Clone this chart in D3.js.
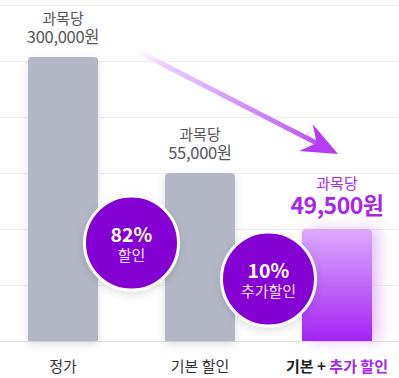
<!DOCTYPE html>
<html>
<head>
<meta charset="utf-8">
<script src="https://cdn.jsdelivr.net/npm/d3@7"></script>
<style>
  body { margin: 0; background: #fff; }
  svg { display: block; font-family: 'Noto Sans CJK KR', 'Noto Sans', sans-serif; }
</style>
</head>
<body>
<script>
// data
const categories = ['정가', '기본 할인', '기본 + 추가 할인'];
const prices = [300000, 55000, 49500];
const barLevel = [5.07, 3, 2]; // bar height in grid steps (chart is not to scale)
const priceUnit = '과목당';
const discounts = ['82%', '10%'];
const discountLabels = ['할인', '추가할인'];
const gridLevels = [0, 1, 2, 3, 4, 5, 6];

const width = 399, height = 378;
const svg = d3.select('body').append('svg').attr('width', width).attr('height', height);

const x = d3.scalePoint().domain(categories).range([63, 337]);
const y = d3.scaleLinear().domain([0, 6]).range([341, 5]);
const barW = 70;
const fmt = d3.format(',');

const defs = svg.append('defs');

let shadow = defs.append('filter').attr('id', 'shadow').attr('x', '-50%').attr('y', '-50%').attr('width', '200%').attr('height', '200%');
shadow.append('feDropShadow').attr('dx', 0).attr('dy', 3).attr('stdDeviation', 4).attr('flood-color', '#000').attr('flood-opacity', 0.12);

let glow = defs.append('filter').attr('id', 'glow').attr('x', '-50%').attr('y', '-50%').attr('width', '200%').attr('height', '200%');
glow.append('feDropShadow').attr('dx', 7).attr('dy', 0).attr('stdDeviation', 7).attr('flood-color', '#c060ff').attr('flood-opacity', 0.4);

let barGrad = defs.append('linearGradient').attr('id', 'barGrad').attr('x1', 0).attr('x2', 0).attr('y1', 0).attr('y2', 1);
barGrad.append('stop').attr('offset', '0%').attr('stop-color', '#dcaafc');
barGrad.append('stop').attr('offset', '100%').attr('stop-color', '#a424f4');

// gridlines
svg.append('g')
  .selectAll('line')
  .data(gridLevels)
  .enter()
  .append('line')
  .attr('x1', 0).attr('x2', width)
  .attr('y1', (d) => y(d) + 0.5).attr('y2', (d) => y(d) + 0.5)
  .attr('stroke', (d) => (d == 0 ? '#e2e2e2' : '#efefef'));

// arrow
const a0 = [135, 50], a1 = [338, 154];
let arrowGrad = defs.append('linearGradient').attr('id', 'arrowGrad').attr('gradientUnits', 'userSpaceOnUse')
  .attr('x1', a0[0]).attr('y1', a0[1]).attr('x2', a1[0]).attr('y2', a1[1]);
arrowGrad.append('stop').attr('offset', '0%').attr('stop-color', '#e6c8ff').attr('stop-opacity', 0);
arrowGrad.append('stop').attr('offset', '15%').attr('stop-color', '#e2c0ff').attr('stop-opacity', 0.8);
arrowGrad.append('stop').attr('offset', '100%').attr('stop-color', '#b43cf2');

const ang = Math.atan2(a1[1] - a0[1], a1[0] - a0[0]);
const pt = (dist, off) => [
  a1[0] - dist * Math.cos(ang) - off * Math.sin(ang),
  a1[1] - dist * Math.sin(ang) + off * Math.cos(ang),
];
svg.append('line')
  .attr('x1', a0[0]).attr('y1', a0[1])
  .attr('x2', pt(20, 0)[0]).attr('y2', pt(20, 0)[1])
  .attr('stroke', 'url(#arrowGrad)').attr('stroke-width', 5);
svg.append('path')
  .attr('d', d3.line()([a1, pt(36, -15), pt(24, 0), pt(36, 15)]) + 'Z')
  .attr('fill', '#b43cf2');

// bars
const barPath = (d, i) => {
  const x0 = x(categories[i]) - barW / 2, y0 = y(barLevel[i]), y1 = y(0), r = 4;
  return `M${x0},${y1}V${y0 + r}Q${x0},${y0} ${x0 + r},${y0}H${x0 + barW - r}Q${x0 + barW},${y0} ${x0 + barW},${y0 + r}V${y1}Z`;
};
svg.append('g')
  .selectAll('path')
  .data(prices)
  .enter()
  .append('path')
  .attr('d', barPath)
  .attr('fill', (d, i) => (i == 2 ? 'url(#barGrad)' : '#b3b6c4'))
  .attr('filter', (d, i) => (i == 2 ? 'url(#glow)' : 'url(#shadow)'));

// price labels
const labels = svg.append('g').attr('text-anchor', 'middle');
prices.forEach((p, i) => {
  const cx = x(categories[i]), top = y(barLevel[i]);
  const last = i == 2;
  labels.append('text')
    .attr('x', cx).attr('y', top - (last ? 40 : 33))
    .attr('font-size', 15)
    .attr('fill', last ? '#a626f0' : '#555')
    .text(priceUnit);
  labels.append('text')
    .attr('x', cx).attr('y', top - (last ? 15 : 14))
    .attr('font-size', last ? 23 : 16.5)
    .attr('font-weight', last ? 700 : 400)
    .attr('fill', last ? '#a626f0' : '#555')
    .attr('letter-spacing', last ? -0.5 : -0.3)
    .text(fmt(p) + '원');
});

// discount badges
const badgeY = [243, 279];
discounts.forEach((d, i) => {
  const cx = (x(categories[i]) + x(categories[i + 1])) / 2;
  const g = svg.append('g').attr('transform', `translate(${cx},${badgeY[i]})`);
  g.append('circle').attr('r', 47).attr('fill', '#8500d2').attr('stroke', '#fff').attr('stroke-width', 3).attr('filter', 'url(#shadow)');
  g.append('text').attr('text-anchor', 'middle').attr('y', -1).attr('font-size', 19.5).attr('font-weight', 700).attr('fill', '#fff').text(d);
  g.append('text').attr('text-anchor', 'middle').attr('y', 18).attr('font-size', 15).attr('fill', '#f1e4ff').text(discountLabels[i]);
});

// x labels
const xl = svg.append('g').attr('text-anchor', 'middle').attr('font-size', 15);
xl.append('text').attr('x', x(categories[0])).attr('y', 372).attr('fill', '#333').text(categories[0]);
xl.append('text').attr('x', x(categories[1])).attr('y', 372).attr('fill', '#333').text(categories[1]);
let last = xl.append('text').attr('x', x(categories[2])).attr('y', 372).attr('font-weight', 700);
const parts = categories[2].split(' + ');
last.append('tspan').attr('fill', '#222').text(parts[0] + ' + ');
last.append('tspan').attr('fill', '#a626f0').text(parts[1]);
</script>
</body>
</html>
